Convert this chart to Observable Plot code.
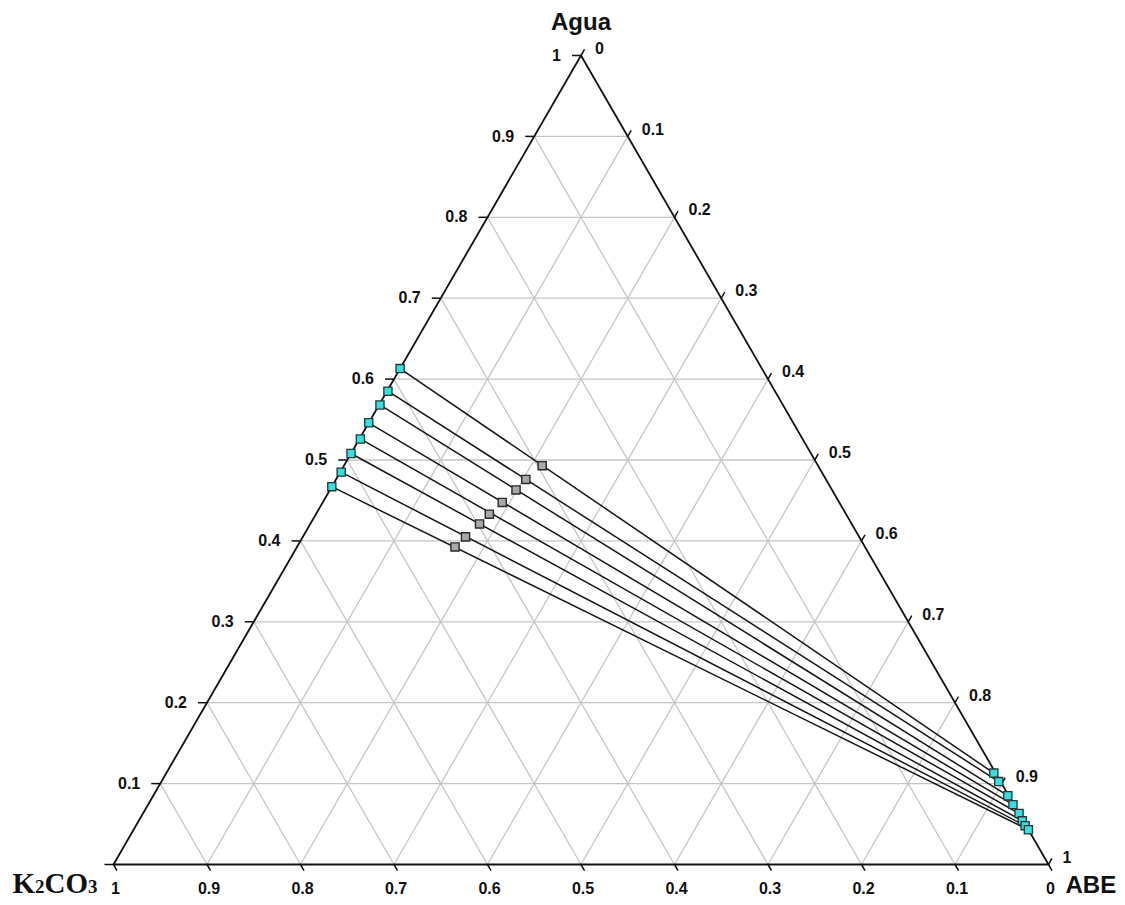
<!DOCTYPE html>
<html>
<head>
<meta charset="utf-8">
<script src="https://cdn.jsdelivr.net/npm/d3@7"></script>
<script src="https://cdn.jsdelivr.net/npm/@observablehq/plot@0.6"></script>
<style>
  html, body { margin: 0; padding: 0; background: #fff; }
  #chart svg { display: block; }
</style>
</head>
<body>
<div id="chart"></div>
<script>
// Ternary phase diagram Agua / K2CO3 / ABE with tie lines (mass fractions)

const tickValues = [0, 0.1, 0.2, 0.3, 0.4, 0.5, 0.6, 0.7, 0.8, 0.9, 1];
const tickLabels = ["0", "0.1", "0.2", "0.3", "0.4", "0.5", "0.6", "0.7", "0.8", "0.9", "1"];

// Salt-rich (bottom) phase: water and ABE fractions
const raffinateAgua = [0.613, 0.585, 0.568, 0.546, 0.526, 0.508, 0.485, 0.467];
const raffinateABE  = [0.000, 0.001, 0.001, 0.000, 0.001, 0.000, 0.001, 0.000];

// Solvent-rich (top) phase: water and K2CO3 fractions
const extractAgua  = [0.113, 0.1025, 0.085, 0.074, 0.063, 0.054, 0.048, 0.043];
const extractK2CO3 = [0.002, 0.002, 0.001, 0.001, 0.000, 0.001, 0.001, 0.000];

// Overall mixture compositions: water and ABE fractions
const feedAgua = [0.493, 0.476, 0.463, 0.4475, 0.433, 0.421, 0.405, 0.3925];
const feedABE  = [0.212, 0.203, 0.199, 0.192, 0.1855, 0.181, 0.174, 0.169];

const H = Math.sqrt(3) / 2;
// K2CO3 vertex at (0,0), ABE vertex at (1,0), Agua vertex at (0.5, H)
const xy = (agua, abe) => ({x: abe + agua / 2, y: agua * H});

const PX = 1 / 935; // one pixel in data units (isotropic scales)

const raffinate = raffinateAgua.map((w, i) => xy(w, raffinateABE[i]));
const extract = extractAgua.map((w, i) => xy(w, 1 - w - extractK2CO3[i]));
const feed = feedAgua.map((w, i) => xy(w, feedABE[i]));
const tieLines = raffinate.map((p, i) => ({x1: p.x, y1: p.y, x2: extract[i].x, y2: extract[i].y}));

// Light grid lines at every 0.1 for each component
const grid = [];
for (const t of tickValues.slice(1, -1)) {
  const a = xy(t, 0), b = xy(t, 1 - t);                 // constant Agua
  const c = xy(1 - t, 0), d = xy(0, 1 - t);             // constant K2CO3
  const e = xy(1 - t, t), f = xy(0, t);                 // constant ABE
  grid.push({x1: a.x, y1: a.y, x2: b.x, y2: b.y});
  grid.push({x1: c.x, y1: c.y, x2: d.x, y2: d.y});
  grid.push({x1: e.x, y1: e.y, x2: f.x, y2: f.y});
}

// Axis positions along each side
const leftAxis = tickValues.map((t, i) => ({...xy(t, 0), label: tickLabels[i]}));          // Agua
const bottomAxis = tickValues.map((t, i) => ({...xy(0, 1 - t), label: tickLabels[i]}));    // K2CO3
const rightAxis = tickValues.map((t, i) => ({...xy(1 - t, t), label: tickLabels[i]}));     // ABE

const leftTicks = leftAxis.map(p => ({x1: p.x, y1: p.y, x2: p.x - 9 * PX, y2: p.y}));
const bottomTicks = bottomAxis.map(p => ({x1: p.x, y1: p.y, x2: p.x + 0.5 * 7 * PX, y2: p.y - H * 7 * PX}));
const rightTicks = rightAxis.map(p => ({x1: p.x, y1: p.y, x2: p.x + 0.5 * 7 * PX, y2: p.y + H * 7 * PX}));

const triangle = [xy(0, 0), xy(1, 0), xy(0, 1), xy(0, 0)];

const vTop = xy(1, 0), vLeft = xy(0, 0), vRight = xy(0, 1);

const linkOpts = {x1: "x1", y1: "y1", x2: "x2", y2: "y2"};
const labelFont = {fontSize: 16, fontWeight: "bold", fill: "#111"};

const chart = Plot.plot({
  width: 1125,
  height: 905,
  marginLeft: 113,
  marginRight: 77,
  marginTop: 55,
  marginBottom: 41,
  x: {domain: [0, 1], axis: null},
  y: {domain: [0, H], axis: null},
  style: {background: "#fff", fontFamily: "'Liberation Sans', Arial, sans-serif"},
  marks: [
    Plot.link(grid, {...linkOpts, stroke: "#c6c6c6", strokeWidth: 1.3}),
    Plot.link(tieLines, {...linkOpts, stroke: "#151515", strokeWidth: 1.5}),
    Plot.line(triangle, {x: "x", y: "y", stroke: "#111", strokeWidth: 1.8, strokeLinejoin: "miter"}),
    Plot.link([...leftTicks, ...bottomTicks, ...rightTicks], {...linkOpts, stroke: "#111", strokeWidth: 1.5}),
    Plot.dot(feed, {x: "x", y: "y", symbol: "square", r: 4.6, fill: "#a8a8a8", stroke: "#2a2a2a", strokeWidth: 1.4}),
    Plot.dot([...raffinate, ...extract], {x: "x", y: "y", symbol: "square", r: 4.6, fill: "#3adcdc", stroke: "#1d3b3b", strokeWidth: 1.3}),
    Plot.text(leftAxis.slice(1), {x: "x", y: "y", text: "label", textAnchor: "end", dx: -20, ...labelFont}),
    Plot.text(bottomAxis, {x: "x", y: "y", text: "label", textAnchor: "middle", dx: 2, dy: 24, ...labelFont}),
    Plot.text(rightAxis, {x: "x", y: "y", text: "label", textAnchor: "start", dx: 14, dy: -7, ...labelFont}),
    Plot.text([vTop], {x: "x", y: "y", text: ["Agua"], textAnchor: "middle", dx: 0, dy: -33, fontSize: 24, fontWeight: "bold", fill: "#111"}),
    Plot.text([vRight], {x: "x", y: "y", text: ["ABE"], textAnchor: "start", dx: 17, dy: 21, fontSize: 24, fontWeight: "bold", fill: "#111"}),
    Plot.text([vLeft], {x: "x", y: "y", text: ["K2CO3"], textAnchor: "end", dx: -16, dy: 19, fontSize: 29, fontWeight: "bold", fontFamily: "'Liberation Serif', 'Times New Roman', serif", fill: "#111"})
  ]
});

// Set the formula's digits as smaller glyphs
d3.select(chart).selectAll("text")
  .filter(function () { return this.textContent === "K2CO3"; })
  .each(function () {
    const t = d3.select(this);
    t.text(null);
    t.append("tspan").text("K");
    t.append("tspan").attr("font-size", 19).text("2");
    t.append("tspan").text("CO");
    t.append("tspan").attr("font-size", 19).text("3");
  });

document.getElementById("chart").appendChild(chart);
</script>
</body>
</html>
